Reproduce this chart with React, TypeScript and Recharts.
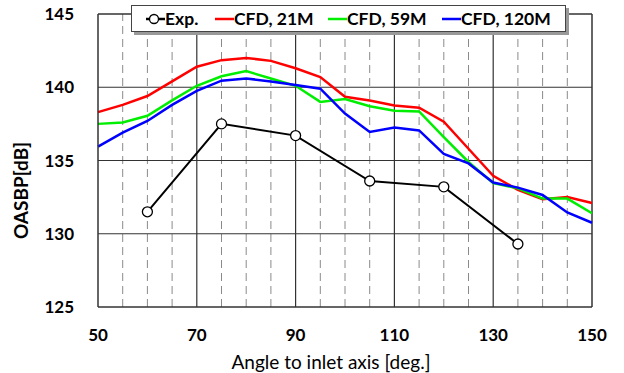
import { Line, LineChart, ReferenceLine, XAxis, YAxis } from "recharts";

const angles = [50, 55, 60, 65, 70, 75, 80, 85, 90, 95, 100, 105, 110, 115, 120, 125, 130, 135, 140, 145, 150];
const cfd21M = [138.3, 138.8, 139.4, 140.4, 141.4, 141.85, 142.0, 141.8, 141.3, 140.7, 139.35, 139.1, 138.75, 138.6, 137.65, 135.8, 133.95, 133.0, 132.35, 132.5, 132.1];
const cfd59M = [137.5, 137.6, 138.05, 139.1, 140.1, 140.75, 141.1, 140.6, 140.1, 139.0, 139.2, 138.7, 138.4, 138.35, 136.6, 134.9, 133.45, 133.1, 132.4, 132.4, 131.4];
const cfd120M = [135.95, 136.9, 137.7, 138.8, 139.75, 140.45, 140.6, 140.4, 140.15, 139.9, 138.2, 136.95, 137.25, 137.05, 135.45, 134.8, 133.5, 133.15, 132.65, 131.45, 130.75];
const expAngles = [60, 75, 90, 105, 120, 135];
const expValues = [131.5, 137.5, 136.7, 133.6, 133.2, 129.3];

const xTicks = [50, 70, 90, 110, 130, 150];
const yTicks = [125, 130, 135, 140, 145];
const majorX = [70, 90, 110, 130];
const minorX = [55, 60, 65, 75, 80, 85, 95, 100, 105, 115, 120, 125, 135, 140, 145];
const majorY = [130, 135, 140];

const data = angles.map((angle, i) => {
  const e = expAngles.indexOf(angle);
  return {
    angle,
    exp: e >= 0 ? expValues[e] : null,
    c21: cfd21M[i],
    c59: cfd59M[i],
    c120: cfd120M[i],
  };
});

const font = "Lato, 'Open Sans', sans-serif";
const tickStyle = { fill: "#000", fontSize: 17, fontWeight: 700, fontFamily: font };

// legend entries, left offsets inside the box
const legendItems = [
  { color: "#000", label: "Exp.", left: 14, marker: true },
  { color: "#ff0000", label: "CFD, 21M", left: 83, marker: false },
  { color: "#00ee00", label: "CFD, 59M", left: 196, marker: false },
  { color: "#0000ff", label: "CFD, 120M", left: 310, marker: false },
];

function LegendBox() {
  return (
    <div
      style={{
        position: "absolute",
        left: 131,
        top: 5,
        width: 435,
        height: 27,
        background: "#fff",
        border: "1px solid #444",
        boxShadow: "3px 3px 0 #999",
        fontFamily: font,
        fontWeight: 700,
        fontSize: 17.5,
        color: "#000",
        boxSizing: "border-box",
      }}
    >
      {legendItems.map((it) => (
        <div
          key={it.label}
          style={{ position: "absolute", left: it.left, top: 0, height: 25, display: "flex", alignItems: "center", whiteSpace: "nowrap" }}
        >
          <svg width={19} height={12}>
            <line x1={0} y1={6} x2={19} y2={6} stroke={it.color} strokeWidth={2.5} />
            {it.marker && <circle cx={8} cy={6} r={4.5} fill="#fff" stroke="#000" strokeWidth={1.3} />}
          </svg>
          <span>{it.label}</span>
        </div>
      ))}
    </div>
  );
}

export default function App() {
  return (
    <div style={{ position: "absolute", left: 0, top: 0, width: 624, height: 373, background: "#fff" }}>
      <LineChart width={624} height={373} data={data} margin={{ top: 14, right: 32, bottom: 0, left: 0 }}>
        {minorX.map((x) => (
          <ReferenceLine key={`m${x}`} x={x} stroke="#8a8a8a" strokeWidth={1} strokeDasharray="8 5" />
        ))}
        {majorX.map((x) => (
          <ReferenceLine key={`M${x}`} x={x} stroke="#333" strokeWidth={1.2} />
        ))}
        {majorY.map((y) => (
          <ReferenceLine key={`y${y}`} y={y} stroke="#333" strokeWidth={1.2} />
        ))}
        <ReferenceLine x={150} stroke="#333" strokeWidth={1.5} />
        <ReferenceLine y={145} stroke="#333" strokeWidth={1.5} />
        <XAxis
          dataKey="angle"
          type="number"
          domain={[50, 150]}
          ticks={xTicks}
          height={66}
          tickLine={false}
          tickMargin={16}
          axisLine={{ stroke: "#333", strokeWidth: 1.5 }}
          tick={tickStyle}
          label={{
            value: "Angle to inlet axis [deg.]",
            position: "insideBottom",
            offset: 4,
            dx: -14,
            style: { fill: "#000", fontSize: 19, fontFamily: font },
          }}
        />
        <YAxis
          type="number"
          domain={[125, 145]}
          ticks={yTicks}
          width={98}
          tickLine={false}
          tickMargin={18}
          axisLine={{ stroke: "#333", strokeWidth: 1.5 }}
          tick={tickStyle}
          label={{
            value: "OASBP[dB]",
            angle: -90,
            position: "insideLeft",
            offset: 21,
            dy: 30,
            style: { fill: "#000", fontSize: 19, fontWeight: 700, fontFamily: font, textAnchor: "middle" },
          }}
        />
        <Line dataKey="c21" stroke="#ff0000" strokeWidth={2.5} dot={false} isAnimationActive={false} />
        <Line dataKey="c59" stroke="#00ee00" strokeWidth={2.5} dot={false} isAnimationActive={false} />
        <Line dataKey="c120" stroke="#0000ff" strokeWidth={2.5} dot={false} isAnimationActive={false} />
        <Line
          dataKey="exp"
          stroke="#000"
          strokeWidth={2}
          connectNulls
          dot={{ r: 5, fill: "#fff", stroke: "#000", strokeWidth: 1.3 }}
          isAnimationActive={false}
        />
      </LineChart>
      <LegendBox />
    </div>
  );
}
